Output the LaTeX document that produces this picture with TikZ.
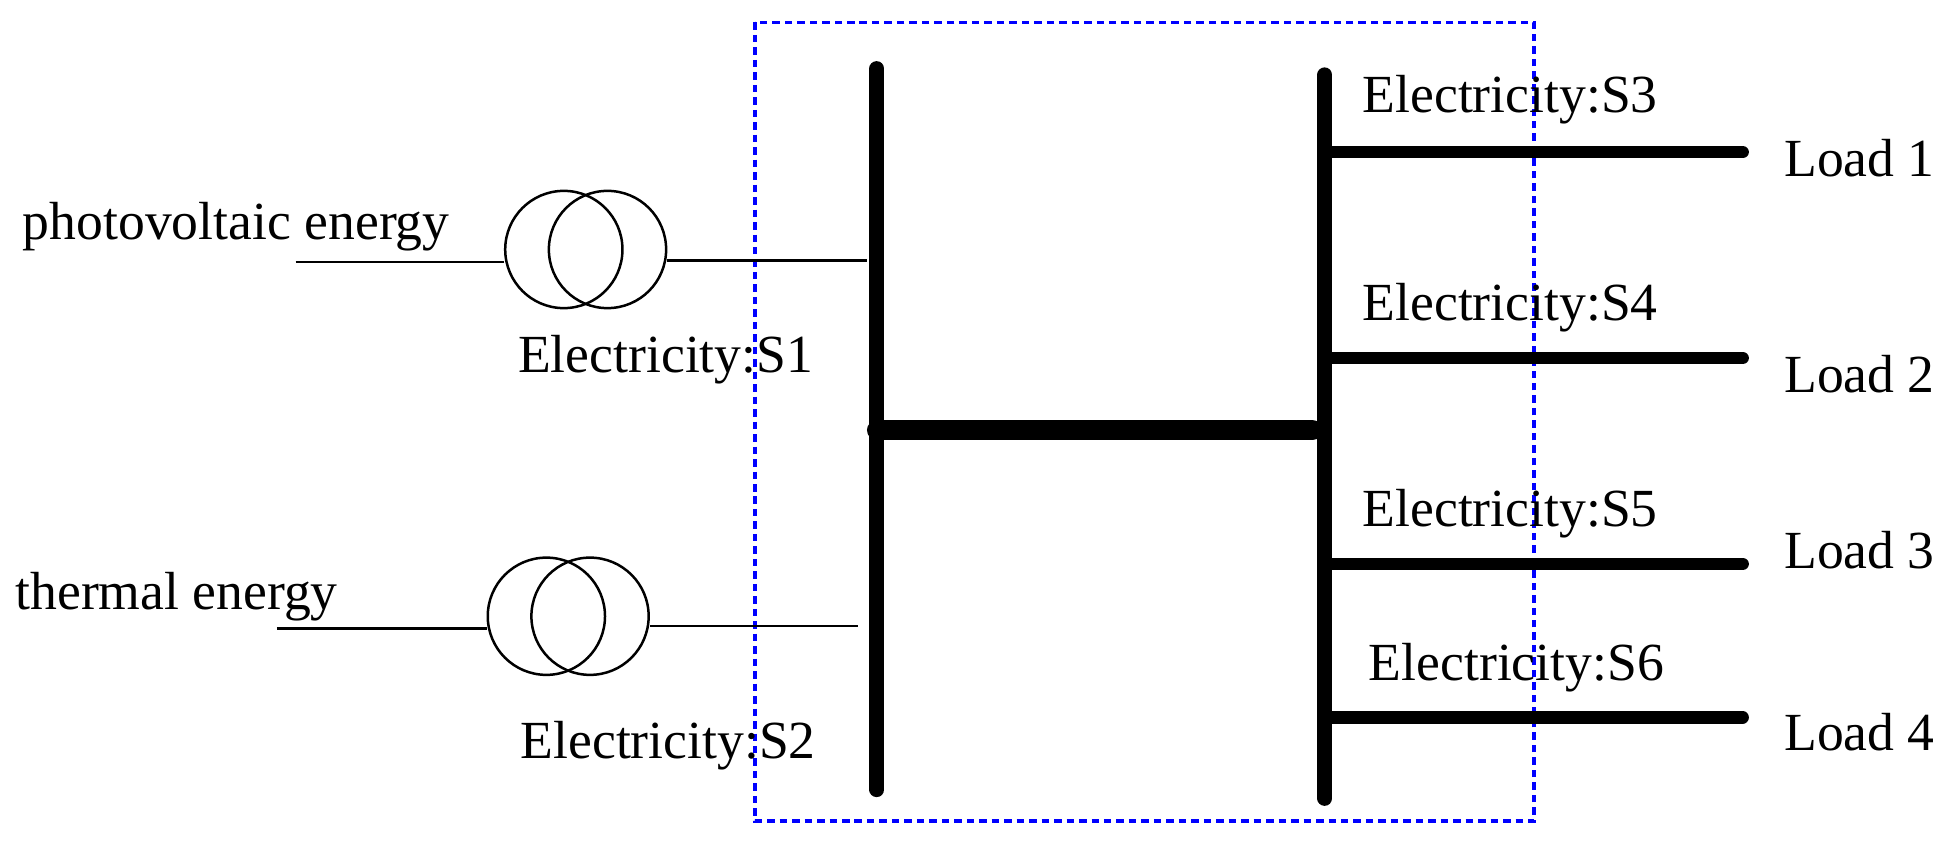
\documentclass[tikz,border=0pt]{standalone}
\usepackage{fontspec}
\setmainfont{Liberation Serif}
\begin{document}
\begin{tikzpicture}[x=0.5pt,y=-0.5pt,
  lbl/.style={inner sep=0pt,font=\fontsize{21.5}{24}\selectfont},
  bus/.style={line width=6pt,line cap=round},
  feed/.style={line width=5pt,line cap=round},
  thin/.style={line width=1pt},
  coil/.style={circle,draw,line width=1pt,minimum size=47pt,inner sep=0pt}]
\useasboundingbox (0,0) rectangle (1560,676);
\draw[blue,densely dashed,line width=1.5pt] (605,18) rectangle (1230,658);
% buses
\coordinate (lt) at (703,55); \coordinate (lb) at (703,633);
\coordinate (rt) at (1062,60); \coordinate (rb) at (1062,640);
\draw[bus] (lt) -- (lb);
\draw[bus] (rt) -- (rb);
\coordinate (ml) at (703,345); \coordinate (mr) at (1052,345);
\draw[line width=8pt,line cap=round] (ml) -- (mr);
% transformer 1
\node[coil] (a1) at (452,200) {};
\node[coil] (a2) at (487,200) {};
\coordinate (p1) at (237,210); \coordinate (p2) at (695,209);
\draw[thin] (p1) -- (a1.west|-p1);
\draw[thin] (a2.east|-p2) -- (p2);
\node[lbl,anchor=west] (pv) at (18,182) {photovoltaic energy};
\node[lbl,anchor=west] (s1) at (415,288) {Electricity:S1};
% transformer 2
\node[coil] (b1) at (438,494) {};
\node[coil] (b2) at (473,494) {};
\coordinate (q1) at (222,504); \coordinate (q2) at (688,502);
\draw[thin] (q1) -- (b1.west|-q1);
\draw[thin] (b2.east|-q2) -- (q2);
\node[lbl,anchor=west] (th) at (12,478) {thermal energy};
\node[lbl,anchor=west] (s2) at (417,598) {Electricity:S2};
% loads
\foreach \y/\ly/\sy/\sx/\n/\s in {122/127/80/1092/1/3, 287/300/247/1092/2/4, 452/441/412/1092/3/5, 575/587/535/1097/4/6}{
  \coordinate (f\n) at (1062,\y);
  \node[lbl,anchor=west] (ld\n) at (1430,\ly) {Load \n};
  \draw[feed] (f\n) -- (1397,\y);
  \node[lbl,anchor=west] (e\n) at (\sx,\sy) {Electricity:S\s};
}
\end{tikzpicture}
\end{document}
